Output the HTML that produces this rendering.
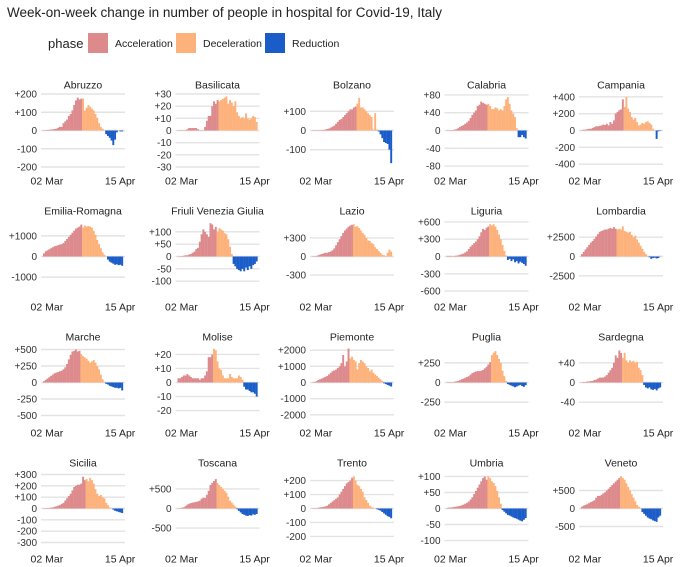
<!DOCTYPE html>
<html><head><meta charset="utf-8">
<style>
body{margin:0;background:#fff;font-family:"Liberation Sans",sans-serif;}
#c{position:relative;width:680px;height:567px;overflow:hidden;}
</style></head>
<body>
<div id="c">
<svg id="s" width="680" height="567" xmlns="http://www.w3.org/2000/svg" font-family="Liberation Sans, sans-serif">
<text x="7" y="17" font-size="13.5" fill="#222">Week-on-week change in number of people in hospital for Covid-19, Italy</text>
<g>
<text x="48" y="48" font-size="13" fill="#222">phase</text>
<rect x="88" y="33" width="20" height="20" fill="#dd8a8d"/>
<text x="115" y="47" font-size="10.5" fill="#222">Acceleration</text>
<rect x="176" y="33" width="20" height="20" fill="#fdb27c"/>
<text x="203" y="47" font-size="10.5" fill="#222">Deceleration</text>
<rect x="265" y="33" width="20" height="20" fill="#1a5cc8"/>
<text x="292" y="47" font-size="10.5" fill="#222">Reduction</text>
</g>
</svg>
</div>
<script>
const regionNames=["Abruzzo","Basilicata","Bolzano","Calabria","Campania","Emilia-Romagna","Friuli Venezia Giulia","Lazio","Liguria","Lombardia","Marche","Molise","Piemonte","Puglia","Sardegna","Sicilia","Toscana","Trento","Umbria","Veneto"];
const domainMax=[200,30,190,82,433,1770,148,589,633,4730,553,26,2260,465,74,322,931,261,114,1014];
const tickSteps=[[200,100],[30,20,10],[100],[80,40],[400,200],[1000],[100,50],[300],[600,300],[2500],[500,250],[20,10],[2000,1000],[250],[40],[300,200,100],[500],[200,100],[100,50],[500]];
const accelEnd=[22,23,25,23,24,22,22,23,24,20,21,20,21,25,23,24,22,23,23,22];
const xTickLabels=["02 Mar","15 Apr"];
const abruzzo=[0,2,3,4,5,6,8,10,15,20,20,40,50,60,80,90,110,140,165,180,170,175,175,110,125,140,130,120,110,90,70,40,20,10,0,-20,-30,-40,-55,-80,-50,-10,0,-5,-5];
const basilicata=[0,0,0,0,0,1,2,2,2,2,2,1,0,0,0,3,8,12,12,20,24,22,25,24,25,26,27,28,22,25,23,20,24,15,12,10,11,10,14,10,9,10,12,11,7];
const bolzano=[0,0,0,2,2,3,3,5,8,10,15,20,25,35,45,55,60,70,80,90,100,110,110,120,125,140,170,120,120,110,100,90,80,70,5,90,5,-5,-20,-40,-60,-65,-70,-100,-170];
const calabria=[0,0,0,1,2,3,5,8,10,12,15,18,22,28,35,40,45,55,58,65,62,60,58,60,55,48,48,52,50,45,48,45,55,70,75,60,45,38,30,5,-15,-15,-10,-15,-18];
const campania=[5,10,10,15,20,20,30,40,50,50,55,60,70,65,80,60,100,80,120,200,220,240,250,370,280,400,260,220,160,130,150,100,60,70,90,80,100,110,90,70,20,0,-100,-10,-5];
const emilia=[150,250,300,350,400,450,500,520,550,580,600,650,750,850,950,1050,1150,1250,1350,1400,1450,1550,1400,1500,1450,1480,1450,1400,1250,1050,800,600,400,200,80,20,-150,-250,-300,-350,-400,-380,-420,-400,-450];
const friuli=[0,1,2,3,5,5,8,10,15,20,30,35,60,90,110,100,90,80,135,130,110,120,100,115,110,105,95,90,70,40,10,-30,-40,-50,-55,-60,-50,-60,-45,-55,-40,-50,-35,-30,-20];
const lazio=[0,5,10,20,30,40,50,60,60,70,80,100,130,180,230,280,330,380,420,450,480,500,510,520,480,490,460,420,380,350,300,260,250,220,200,150,120,90,60,30,20,10,60,110,80];
const liguria=[10,10,10,5,10,15,20,30,40,50,70,90,130,170,200,230,260,300,350,420,480,460,500,520,560,540,560,520,460,380,300,200,100,20,-60,-40,-80,-50,-100,-80,-120,-90,-110,-130,-160];
const lombardia=[300,600,900,1200,1500,1800,2000,2300,2600,2900,3200,3300,3400,3500,3500,3600,3700,3600,3800,3600,3500,3600,3500,3900,3300,3200,3100,3200,2800,2500,2700,2200,1800,1400,1000,600,300,100,-100,-300,-200,-150,-250,-200,100];
const marche=[20,40,60,80,100,120,140,150,160,170,180,200,230,280,350,420,470,480,500,470,480,430,400,380,360,330,300,320,340,300,250,200,120,50,10,-20,-30,-50,-60,-70,-80,-80,-90,-80,-120];
const molise=[3,3,4,5,5,6,5,4,3,3,3,3,2,3,3,5,8,18,18,20,24,23,15,10,9,5,3,3,3,6,4,3,3,3,5,4,2,-3,-5,-5,-6,-7,-7,-8,-10];
const piemonte=[20,40,80,150,200,250,300,350,400,500,600,700,750,800,900,1000,1200,1700,1000,1300,2100,1500,1600,1400,1300,800,1200,1400,1300,1200,1000,900,700,800,600,500,400,300,200,100,-50,-100,-150,-200,-250];
const puglia=[0,2,5,5,10,15,20,30,40,50,60,70,80,100,120,130,140,145,145,150,160,180,200,230,260,350,380,400,350,300,250,150,80,20,-20,-30,-40,-50,-60,-50,-40,-30,-45,-55,-35];
const sardegna=[0,1,1,2,2,3,3,5,6,8,10,10,10,12,15,20,25,30,40,55,50,65,60,50,60,45,40,45,42,44,40,42,30,25,15,-5,-10,-12,-10,-14,-15,-13,-16,-12,-10];
const sicilia=[2,3,5,5,8,10,15,20,25,30,40,50,70,90,110,130,160,190,200,210,210,220,280,250,260,240,270,250,220,170,130,110,120,100,90,50,30,10,0,-10,-20,-25,-30,-35,-40];
const toscana=[0,10,20,30,60,100,120,140,150,160,170,180,200,250,280,270,350,450,600,650,700,750,650,600,550,500,450,400,300,200,150,100,50,-20,-60,-100,-140,-160,-180,-190,-170,-180,-150,-160,-140];
const trento=[0,0,2,5,8,10,12,15,20,30,40,50,60,70,80,100,120,140,160,180,190,200,220,230,200,170,160,140,120,80,60,40,20,10,5,0,-5,-10,-15,-25,-35,-45,-55,-60,-70];
const umbria=[2,3,3,4,5,6,7,8,10,12,15,18,22,28,35,45,55,65,75,85,95,100,90,100,95,85,80,70,55,35,15,-5,-10,-15,-20,-22,-25,-28,-30,-32,-35,-38,-40,-35,-30];
const veneto=[50,80,100,120,150,180,200,230,300,350,350,380,420,450,500,550,600,650,700,750,800,850,900,850,800,700,600,500,400,300,200,100,50,10,-100,-150,-200,-250,-280,-300,-330,-350,-370,-250,-200];
const seriesValues=[abruzzo,basilicata,bolzano,calabria,campania,emilia,friuli,lazio,liguria,lombardia,marche,molise,piemonte,puglia,sardegna,sicilia,toscana,trento,umbria,veneto];

const NS="http://www.w3.org/2000/svg";
const svg=document.getElementById('s');
function mk(tag,attrs,parent){const e=document.createElementNS(NS,tag);for(const k in attrs)e.setAttribute(k,attrs[k]);parent.appendChild(e);return e;}
const H=36.5;
function fmt(v){return v>0?"+"+v:String(v);}
regionNames.forEach((name,p)=>{
  const col=p%5,row=Math.floor(p/5);
  const right=125+134.5*col, left=right-84;
  const zero=130.5+126*row;
  const D=domainMax[p];
  const y=v=>zero-v/D*H;
  const g=mk('g',{},svg);
  
  
  const ticks=[0];
  tickSteps[p].forEach(t=>{ticks.push(t);ticks.push(-t);});
  ticks.forEach(t=>{
    const ln=mk('line',{x1:left,x2:right,y1:y(t),y2:y(t),stroke:'#e3e3e3','stroke-width':1.4},g);
    
    
    const tx=mk('text',{x:left-4,y:y(t)+3.5,'font-size':10,'text-anchor':'end',fill:'#333'},g);
    tx.textContent=t===0?"0":fmt(t);
    
    
  });
  const vals=seriesValues[p];
  const n=vals.length, x0=left+2, step=(right-left-4)/n;
  vals.forEach((v,i)=>{
    const col2=v<0?'#1a5cc8':(i<accelEnd[p]?'#dd8a8d':'#fdb27c');
    const yy=Math.min(y(v),zero), hh=Math.abs(y(v)-zero);
    const r=mk('rect',{x:x0+i*step,y:yy,width:step+0.15,height:Math.max(hh,0.3),fill:col2},g);
    
    
  });
  const t=mk('text',{x:(left+right)/2,y:zero-42,'font-size':10.5,'text-anchor':'middle',fill:'#222'},g);
  t.textContent=name;
  
  
  const l1=mk('text',{x:x0+step/2+3,y:zero+54,'font-size':10.5,'text-anchor':'middle',fill:'#222'},g);
  l1.textContent=xTickLabels[0];
  
  
  const l2=mk('text',{x:x0+(n-0.5)*step-2,y:zero+54,'font-size':10.5,'text-anchor':'middle',fill:'#222'},g);
  l2.textContent=xTickLabels[1];
  
  
});
</script>
</body></html>
